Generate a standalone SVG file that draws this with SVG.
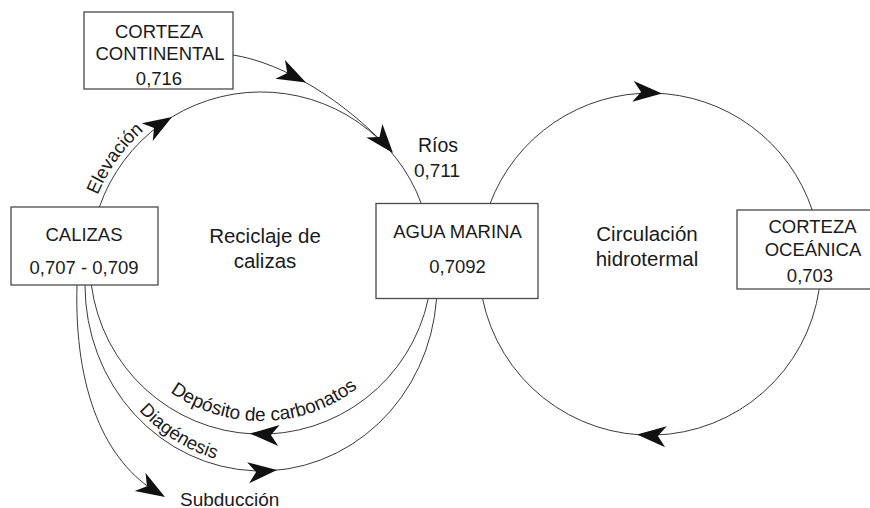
<svg xmlns="http://www.w3.org/2000/svg" xmlns:xlink="http://www.w3.org/1999/xlink" width="870" height="508" viewBox="0 0 870 508">
<style>
  .box { fill: #ffffff; stroke: #4a4a4a; stroke-width: 1.3; }
  .t { font-family: "Liberation Sans", Arial, sans-serif; font-size: 18.5px; fill: #1a1a1a; text-anchor: middle; }
  .lbl { font-family: "Liberation Sans", Arial, sans-serif; font-size: 20.5px; fill: #1a1a1a; text-anchor: middle; }
  .arc { font-family: "Liberation Sans", Arial, sans-serif; font-size: 19px; fill: #1a1a1a; }
  .ln { fill: none; stroke: #3a3a3a; stroke-width: 1; }
  .ah { fill: #111111; }
</style>
<defs>
  <path id="head" d="M0,0 L-29,-10.5 L-21,0 L-29,10.5 Z"/>
  <path id="pElev" d="M97.5,195.3 A177 177 0 0 1 200.5,96.7"/>
  <path id="pDepo" d="M170.1,392.2 A158 158 0 0 0 382,364.6"/>
  <path id="pDiag" d="M139,410.5 A172 181 0 0 0 330,451.6"/>
</defs>
<rect width="870" height="508" fill="#ffffff"/>
<g id="connectors">
  <path class="ln" d="M99.4,207 A171 171 0 0 1 421.5,204"/>
  <path class="ln" d="M233,55 C285,63 346,103 386,146"/>
  <path class="ln" d="M428.2,299 A171 171 0 0 1 91.4,285"/>
  <path class="ln" d="M85,285 A176 186 0 0 0 436.5,299"/>
  <path class="ln" d="M77,285 C74,390 105,462 158,493"/>
  <path class="ln" d="M489.9,204 A171 171 0 0 1 812.2,210"/>
  <path class="ln" d="M819.2,289 A171 171 0 0 1 482.4,298"/>
  <use href="#head" class="ah" transform="translate(306,82.5) rotate(27)"/>
  <use href="#head" class="ah" transform="translate(393,153) rotate(50)"/>
  <use href="#head" class="ah" transform="translate(172,117) rotate(-31.4)"/>
  <use href="#head" class="ah" transform="translate(250,433.6) rotate(183.7)"/>
  <use href="#head" class="ah" transform="translate(277,470) rotate(-5.5)"/>
  <use href="#head" class="ah" transform="translate(165,497) rotate(31)"/>
  <use href="#head" class="ah" transform="translate(662,93.4) rotate(4)"/>
  <use href="#head" class="ah" transform="translate(637,434.5) rotate(184.4)"/>
</g>
<g id="corteza-continental">
  <rect class="box" x="84" y="12" width="149" height="77"/>
  <text class="t" x="159" y="37.5">CORTEZA</text>
  <text class="t" x="160" y="60">CONTINENTAL</text>
  <text class="t" x="159" y="85">0,716</text>
</g>
<g id="calizas">
  <rect class="box" x="11" y="207" width="147" height="78"/>
  <text class="t" x="84" y="240.5">CALIZAS</text>
  <text class="t" x="84" y="274">0,707 - 0,709</text>
</g>
<g id="agua-marina">
  <rect class="box" x="376" y="203.5" width="162" height="95"/>
  <text class="t" x="457.5" y="238">AGUA MARINA</text>
  <text class="t" x="457.5" y="273">0,7092</text>
</g>
<g id="corteza-oceanica">
  <rect class="box" x="737" y="210" width="140" height="79"/>
  <text class="t" x="812.5" y="233.3">CORTEZA</text>
  <text class="t" x="813" y="256">OCEÁNICA</text>
  <text class="t" x="810" y="281.7">0,703</text>
</g>
<g id="labels">
  <text class="t" x="438" y="152.3" style="font-size:19.5px">Ríos</text>
  <text class="t" x="437" y="177.3" style="font-size:19px">0,711</text>
  <text class="lbl" x="265" y="243">Reciclaje de</text>
  <text class="lbl" x="265" y="268">calizas</text>
  <text class="lbl" x="647" y="241">Circulación</text>
  <text class="lbl" x="647" y="266">hidrotermal</text>
  <text class="arc" x="180" y="505.5">Subducción</text>
  <text class="arc" style="font-size:18.5px"><textPath href="#pElev">Elevación</textPath></text>
  <text class="arc"><textPath href="#pDepo">Depósito de carbonatos</textPath></text>
  <text class="arc" style="font-size:18.5px"><textPath href="#pDiag">Diagénesis</textPath></text>
</g>
</svg>
